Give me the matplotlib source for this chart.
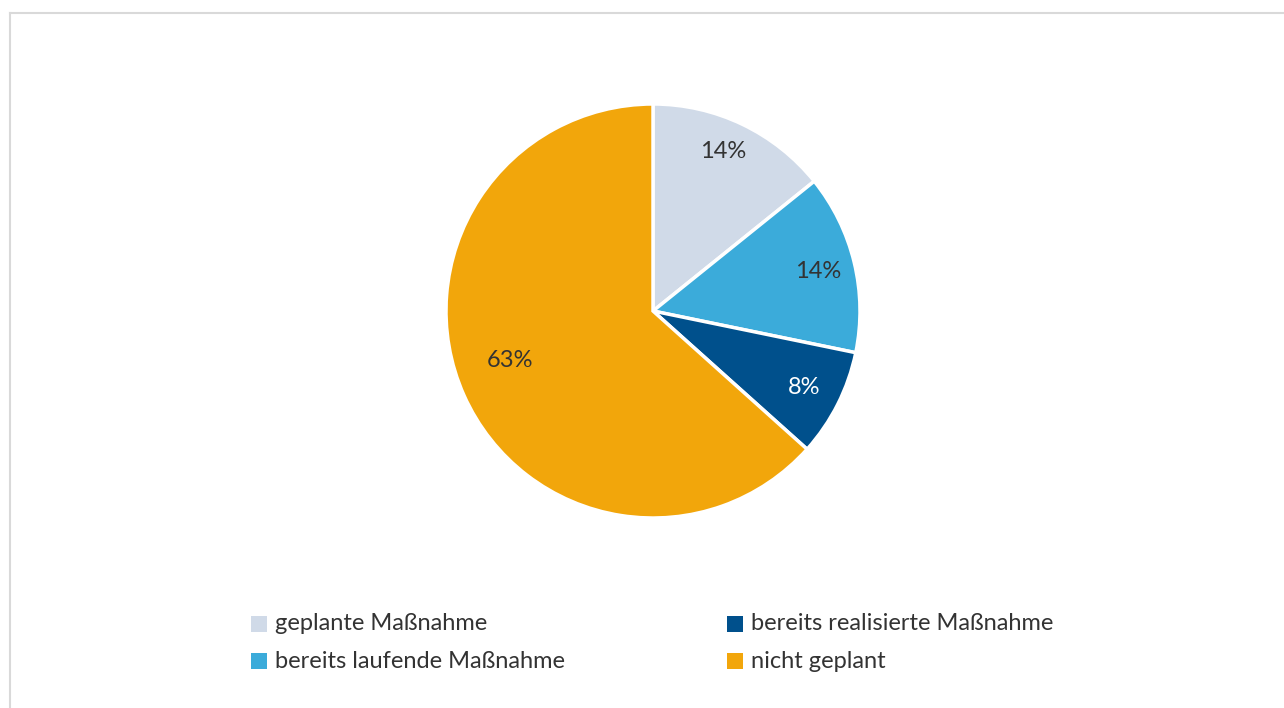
import matplotlib
matplotlib.use("Agg")
import matplotlib.pyplot as plt
from matplotlib.patches import Rectangle
from matplotlib.lines import Line2D

labels = ["geplante Maßnahme", "bereits laufende Maßnahme", "bereits realisierte Maßnahme", "nicht geplant"]
values = [14.2, 14.0, 8.4, 63.3]
colors = ["#D0DAE8", "#3BABDA", "#00508C", "#F2A60B"]
label_colors = ["#333333", "#333333", "#FFFFFF", "#333333"]

plt.rcParams['font.family'] = ['Lato', 'DejaVu Sans']

W, H = 1284, 708
fig = plt.figure(figsize=(W / 100, H / 100), dpi=100)
fig.patch.set_facecolor("white")

# frame (left and top lines)
fig.add_artist(Line2D([10.5 / W, 10.5 / W], [0, 1 - 13 / H], transform=fig.transFigure, color="#D9D9D9", lw=1.5))
fig.add_artist(Line2D([10.5 / W, 1], [1 - 13 / H, 1 - 13 / H], transform=fig.transFigure, color="#D9D9D9", lw=1.5))

cx, cy, r = 653, 311, 207
ax = fig.add_axes([(cx - r) / W, (H - cy - r) / H, 2 * r / W, 2 * r / H])
wedges, texts, autotexts = ax.pie(
    values, colors=colors, startangle=90, counterclock=False,
    autopct="%1.0f%%", pctdistance=0.82,
    wedgeprops=dict(edgecolor="white", linewidth=2.5),
    textprops=dict(fontsize=17, color="#333333"))
for t, c in zip(autotexts, label_colors):
    t.set_color(c)
# nudge large slice label
autotexts[3].set_position((-0.69, -0.24))
autotexts[0].set_position((0.34, 0.77))
ax.set_xlim(-1, 1)
ax.set_ylim(-1, 1)
ax.set_aspect("equal")
ax.axis("off")

# legend, two columns
col_x = [251, 727]
row_y = [624, 661]
sq = 16
for i, (lab, col) in enumerate(zip(labels, colors)):
    c, rr = i // 2, i % 2
    x0, y0 = col_x[c], row_y[rr]
    fig.add_artist(Rectangle((x0 / W, (H - y0 - sq / 2) / H), sq / W, sq / H,
                             transform=fig.transFigure, facecolor=col, edgecolor="none"))
    fig.text((x0 + sq + 8) / W, (H - y0) / H, lab, fontsize=17, color="#333333",
             va="center", ha="left")

fig.savefig("out.png", dpi=100, facecolor="white")
